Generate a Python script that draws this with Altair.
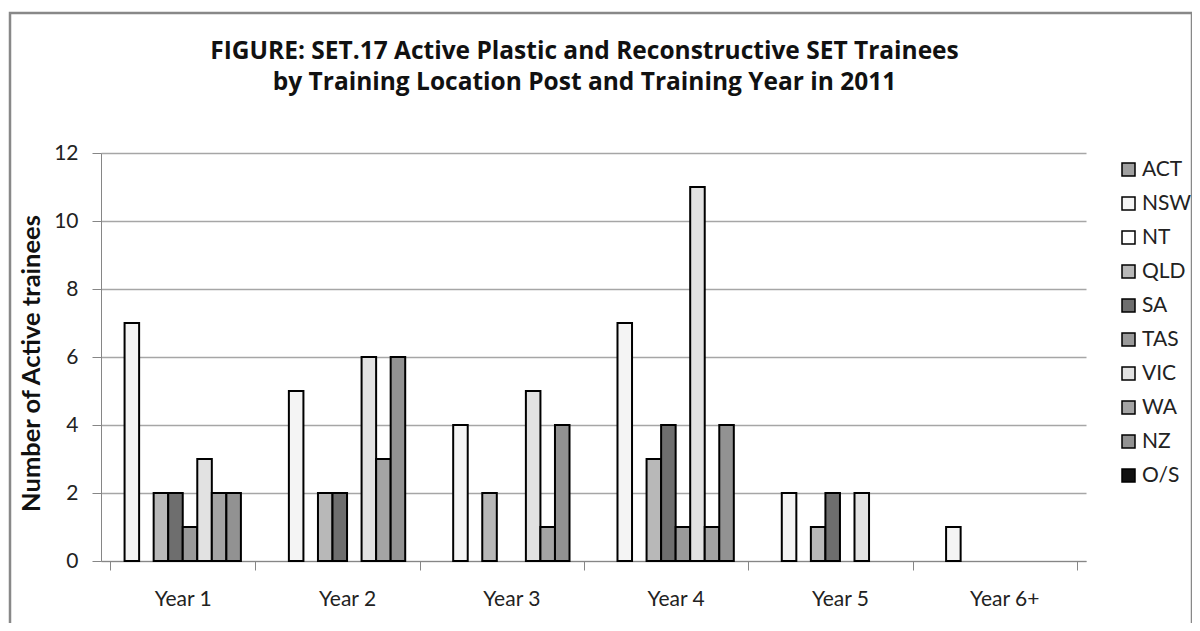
import altair as alt
import pandas as pd

years = ["Year 1", "Year 2", "Year 3", "Year 4", "Year 5", "Year 6+"]
series = ["ACT", "NSW", "NT", "QLD", "SA", "TAS", "VIC", "WA", "NZ", "O/S"]

act = [0, 0, 0, 0, 0, 0]
nsw = [7, 5, 4, 7, 2, 1]
nt = [0, 0, 0, 0, 0, 0]
qld = [2, 2, 2, 3, 1, 0]
sa = [2, 2, 0, 4, 2, 0]
tas = [1, 0, 0, 1, 0, 0]
vic = [3, 6, 5, 11, 2, 0]
wa = [2, 3, 1, 1, 0, 0]
nz = [2, 6, 4, 4, 0, 0]
os_ = [0, 0, 0, 0, 0, 0]

tones = ["#a0a0a0", "#f4f4f4", "#ffffff", "#b8b8b8", "#6e6e6e",
         "#9a9a9a", "#e2e2e2", "#a4a4a4", "#929292", "#111111"]

values = [act, nsw, nt, qld, sa, tas, vic, wa, nz, os_]
rows = []
for s, vals in zip(series, values):
    for y, v in zip(years, vals):
        rows.append({"year": y, "series": s, "value": v})
df = pd.DataFrame(rows)

FONT = "Lato"

bars = alt.Chart(df).transform_filter("datum.value > 0").mark_bar(
    stroke="black", strokeWidth=2
).encode(
    x=alt.X("year:N", sort=years, title=None,
            scale=alt.Scale(domain=years, paddingInner=0.115, paddingOuter=0.055),
            axis=alt.Axis(labelAngle=0, tickBand="extent", tickSize=9,
                          labelPadding=18, domainColor="#868686", tickColor="#868686",
                          labelFontSize=21, labelFont=FONT, labelColor="#222")),
    xOffset=alt.XOffset("series:N", sort=series,
                        scale=alt.Scale(domain=series, paddingInner=0, paddingOuter=0)),
    y=alt.Y("value:Q", title="Number of Active trainees",
            scale=alt.Scale(domain=[0, 12]),
            axis=alt.Axis(values=[0, 2, 4, 6, 8, 10, 12], tickSize=9, labelPadding=14,
                          grid=True, gridColor="#a6a6a6", gridWidth=1.5,
                          domainColor="#868686", tickColor="#868686",
                          labelFontSize=21, labelFont=FONT, labelColor="#222",
                          titleFontSize=25.5, titleFont=FONT, titleFontWeight="bold",
                          titleColor="#111", titleX=-70, titleY=210,
                          titleAngle=270, titleAlign="center", titleBaseline="middle")),
    color=alt.Color("series:N", sort=series,
                    scale=alt.Scale(domain=series, range=tones),
                    legend=alt.Legend(title=None, orient="none", legendX=1017, legendY=6,
                                      symbolType="square", symbolSize=169,
                                      symbolStrokeColor="black", symbolStrokeWidth=1.5,
                                      labelFontSize=21, labelFont=FONT, labelColor="#222",
                                      rowPadding=12, padding=0, labelOffset=3)),
)

frame = alt.Chart(pd.DataFrame({"k": [0]})).mark_rect(
    filled=False, stroke="#888888", strokeWidth=2.5
).encode(
    x=alt.value(-91), x2=alt.value(1091), y=alt.value(-140), y2=alt.value(485)
)

chart = alt.layer(frame, bars).properties(
    width=985, height=408,
    title=alt.TitleParams(
        text=["FIGURE: SET.17 Active Plastic and Reconstructive SET Trainees",
              "by Training Location Post and Training Year in 2011"],
        font="Open Sans", fontSize=24.5, fontWeight="bold", color="#111",
        anchor="middle", offset=0, lineHeight=31, dx=-9, dy=84),
    autosize=alt.AutoSizeParams(type="none"),
    padding={"left": 93, "top": 145, "right": 106, "bottom": 62},
).configure_view(stroke=None)

chart.save("out.html", embed_options={"renderer": "svg", "actions": False})
